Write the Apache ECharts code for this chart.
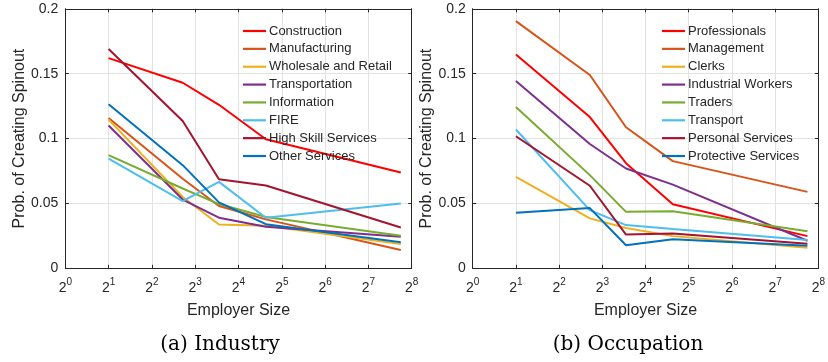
<!DOCTYPE html>
<html>
<head>
<meta charset="utf-8">
<script src="https://cdn.jsdelivr.net/npm/echarts@6/dist/echarts.min.js"></script>
<style>
  html, body { margin: 0; padding: 0; background: #fff; }
  #chart { width: 828px; height: 362px; }
</style>
</head>
<body>
<div id="chart"></div>
<script>
// Employer size (workers) at which each bin is plotted
const employerSize = [2, 6.55, 11.7, 24.8, 215];

// Panel (a): by industry
const industryNames = ['Construction', 'Manufacturing', 'Wholesale and Retail', 'Transportation',
  'Information', 'FIRE', 'High Skill Services', 'Other Services'];
const construction = [0.162, 0.143, 0.126, 0.0995, 0.0738];
const manufacturing = [0.1159, 0.069, 0.048, 0.0377, 0.0141];
const wholesaleRetail = [0.1146, 0.055, 0.0338, 0.0328, 0.0187];
const transportation = [0.110, 0.053, 0.039, 0.032, 0.0243];
const information = [0.0872, 0.0615, 0.0495, 0.0395, 0.0251];
const fire = [0.0846, 0.0518, 0.0666, 0.0389, 0.050];
const highSkillServices = [0.169, 0.1135, 0.0686, 0.0638, 0.0315];
const otherServices = [0.1264, 0.0795, 0.0508, 0.034, 0.020];
const industryValues = [construction, manufacturing, wholesaleRetail, transportation,
  information, fire, highSkillServices, otherServices];

// Panel (b): by occupation
const occupationNames = ['Professionals', 'Management', 'Clerks', 'Industrial Workers',
  'Traders', 'Transport', 'Personal Services', 'Protective Services'];
const professionals = [0.1648, 0.1166, 0.081, 0.0494, 0.0248];
const management = [0.1905, 0.149, 0.1087, 0.0826, 0.0589];
const clerks = [0.0705, 0.0385, 0.031, 0.0248, 0.0159];
const industrialWorkers = [0.1443, 0.0958, 0.0769, 0.0645, 0.0212];
const traders = [0.1243, 0.0718, 0.0435, 0.044, 0.0285];
const transport = [0.107, 0.0448, 0.0333, 0.0302, 0.0218];
const personalServices = [0.1018, 0.0636, 0.026, 0.0269, 0.019];
const protectiveServices = [0.0428, 0.0464, 0.0178, 0.0224, 0.0173];
const occupationValues = [professionals, management, clerks, industrialWorkers,
  traders, transport, personalServices, protectiveServices];

const panelCaptions = ['(a) Industry', '(b) Occupation'];
const xAxisTitle = 'Employer Size';
const yAxisTitle = 'Prob. of Creating Spinout';

const palette = ['#FF0000', '#D95319', '#EDB120', '#7E2F8E', '#77AC30', '#4DBEEE', '#A2142F', '#0072BD'];

const SANS = '"Liberation Sans", Arial, Helvetica, sans-serif';
const AXIS_DARK = '#262626';
const GRID_GRAY = '#e3e3e3';

const grids = [
  { left: 65.3, top: 8.8, width: 346.4, height: 259.5 },
  { left: 472.7, top: 8.8, width: 346.3, height: 259.5 }
];

function powerLabel(v) {
  const e = Math.round(Math.log2(v));
  return '{b|2}{s|' + e + '}';
}

const xAxes = [];
const yAxes = [];
grids.forEach((g, i) => {
  // bottom axis with labels
  xAxes.push({
    type: 'log', logBase: 2, min: 1, max: 256, splitNumber: 8, gridIndex: i,
    name: xAxisTitle, nameLocation: 'middle', nameGap: 34,
    nameTextStyle: { fontFamily: SANS, fontSize: 16, color: AXIS_DARK },
    axisLine: { lineStyle: { color: AXIS_DARK, width: 1 } },
    axisTick: { inside: true, length: 3.5, lineStyle: { color: AXIS_DARK } },
    minorTick: { show: false },
    splitLine: { show: true, lineStyle: { color: GRID_GRAY, width: 1 } },
    axisLabel: {
      margin: 9,
      formatter: powerLabel,
      color: AXIS_DARK,
      rich: {
        b: { fontFamily: SANS, fontSize: 14, color: AXIS_DARK, lineHeight: 18, verticalAlign: 'bottom' },
        s: { fontFamily: SANS, fontSize: 10, color: AXIS_DARK, lineHeight: 7, verticalAlign: 'top' }
      }
    }
  });
  // top edge of the box with inward ticks
  xAxes.push({
    type: 'log', logBase: 2, min: 1, max: 256, splitNumber: 8, gridIndex: i, position: 'top',
    axisLine: { show: true, onZero: false, lineStyle: { color: AXIS_DARK, width: 1 } },
    axisTick: { inside: true, length: 3.5, lineStyle: { color: AXIS_DARK } },
    axisLabel: { show: false }, splitLine: { show: false }
  });
  yAxes.push({
    type: 'value', min: 0, max: 0.2, interval: 0.05, gridIndex: i,
    name: yAxisTitle, nameLocation: 'middle', nameGap: 38,
    nameTextStyle: { fontFamily: SANS, fontSize: 16, color: AXIS_DARK },
    axisLine: { show: true, lineStyle: { color: AXIS_DARK, width: 1 } },
    axisTick: { show: true, inside: true, length: 3.5, lineStyle: { color: AXIS_DARK } },
    splitLine: { show: true, lineStyle: { color: GRID_GRAY, width: 1 } },
    axisLabel: { fontFamily: SANS, fontSize: 14, color: AXIS_DARK, margin: 7 }
  });
  yAxes.push({
    type: 'value', min: 0, max: 0.2, interval: 0.05, gridIndex: i, position: 'right',
    axisLine: { show: true, onZero: false, lineStyle: { color: AXIS_DARK, width: 1 } },
    axisTick: { show: true, inside: true, length: 3.5, lineStyle: { color: AXIS_DARK } },
    axisLabel: { show: false }, splitLine: { show: false }
  });
});

function buildSeries(names, values, panel) {
  return names.map((name, k) => ({
    name: name,
    type: 'line',
    xAxisIndex: panel * 2,
    yAxisIndex: panel * 2,
    symbol: 'none',
    animation: false,
    color: palette[k],
    lineStyle: { width: 2, color: palette[k] },
    data: values[k].map((v, j) => [employerSize[j], v])
  }));
}

const series = buildSeries(industryNames, industryValues, 0)
  .concat(buildSeries(occupationNames, occupationValues, 1));

function legendFor(names, left) {
  return {
    data: names.map(n => ({ name: n, icon: 'rect' })),
    orient: 'vertical',
    left: left, top: 24,
    padding: 0,
    itemWidth: 23, itemHeight: 2.2, itemGap: 3.86,
    textStyle: { fontFamily: SANS, fontSize: 13, color: AXIS_DARK, lineHeight: 14, padding: [0, 0, 0, -2] },
    selectedMode: false
  };
}

const option = {
  backgroundColor: '#ffffff',
  animation: false,
  grid: grids.map(g => Object.assign({ containLabel: false }, g)),
  xAxis: xAxes,
  yAxis: yAxes,
  legend: [legendFor(industryNames, 243), legendFor(occupationNames, 662)],
  title: [
    { text: panelCaptions[0], left: 215, top: 330, textAlign: 'center',
      textStyle: { fontFamily: '"DejaVu Serif", serif', fontSize: 20, fontWeight: 'normal', color: '#000' } },
    { text: panelCaptions[1], left: 623, top: 330, textAlign: 'center',
      textStyle: { fontFamily: '"DejaVu Serif", serif', fontSize: 20, fontWeight: 'normal', color: '#000' } }
  ],
  series: series
};

const chart = echarts.init(document.getElementById('chart'), null, { renderer: 'canvas' });
chart.setOption(option);
</script>
</body>
</html>
